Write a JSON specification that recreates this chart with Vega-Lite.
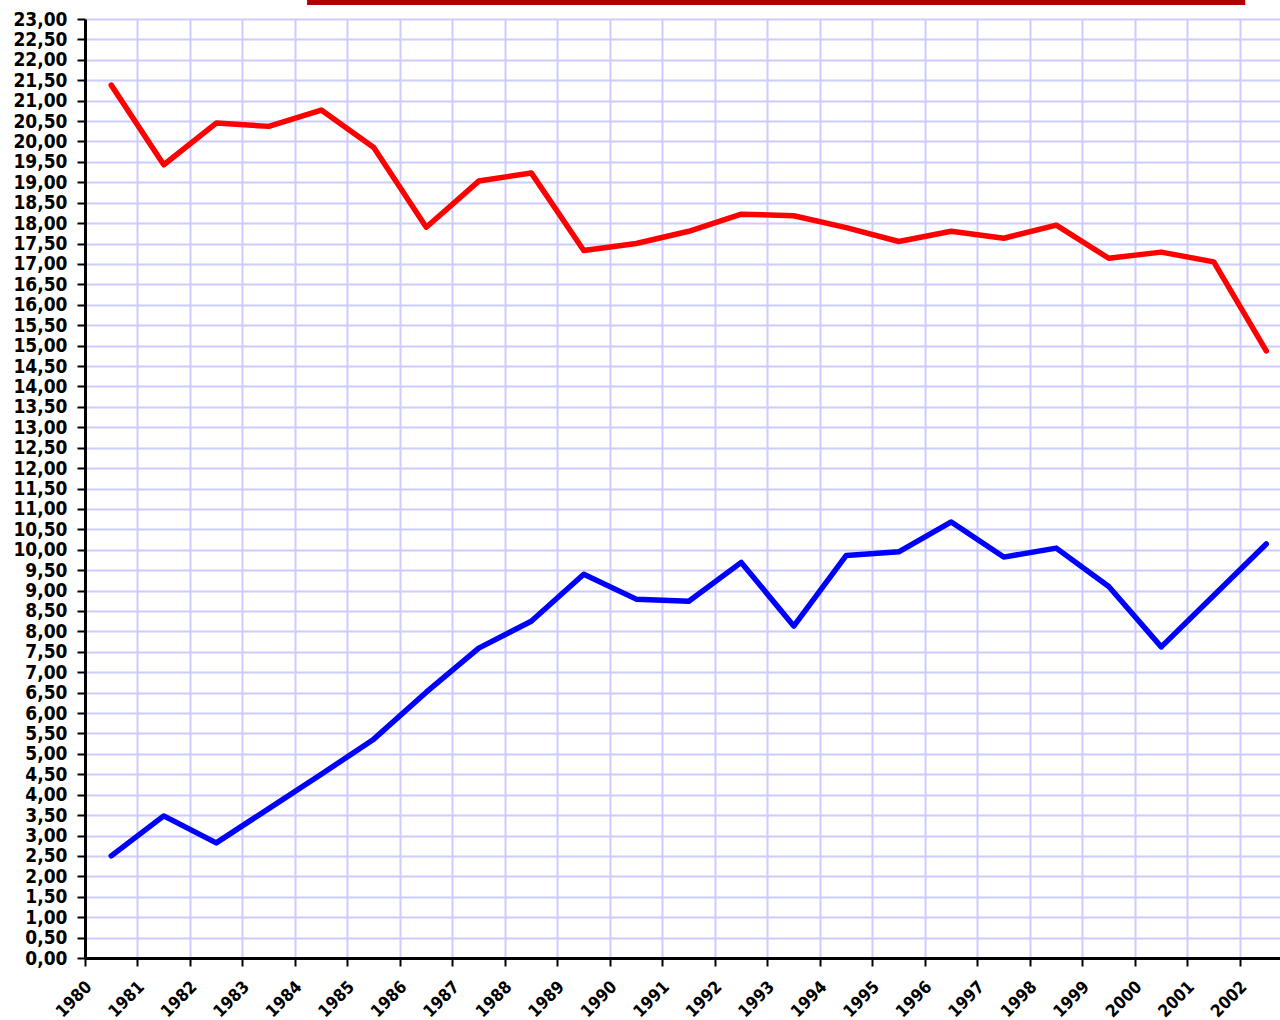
{
  "$schema": "https://vega.github.io/schema/vega-lite/v6.json",
  "width": 1195,
  "height": 939,
  "autosize": {"type": "none"},
  "padding": {"left": 85, "top": 19, "right": 0, "bottom": 62},
  "background": "#ffffff",
  "config": {
    "view": {"stroke": null},
    "axis": {
      "labelFont": "DejaVu Sans Condensed, DejaVu Sans",
      "labelFontWeight": "bold",
      "labelFontSize": 19,
      "labelColor": "#000000",
      "labelOverlap": false,
      "labelFlush": false,
      "domainColor": "#000000",
      "domainWidth": 3,
      "tickColor": "#000000",
      "tickWidth": 2,
      "tickSize": 8,
      "gridColor": "#ccccff",
      "gridWidth": 2,
      "gridOpacity": 1
    }
  },
  "datasets": {
    "series": [
      {"year": 1980, "series": "red", "value": 21.38},
      {"year": 1981, "series": "red", "value": 19.43},
      {"year": 1982, "series": "red", "value": 20.45},
      {"year": 1983, "series": "red", "value": 20.37},
      {"year": 1984, "series": "red", "value": 20.77},
      {"year": 1985, "series": "red", "value": 19.85},
      {"year": 1986, "series": "red", "value": 17.9},
      {"year": 1987, "series": "red", "value": 19.03},
      {"year": 1988, "series": "red", "value": 19.23},
      {"year": 1989, "series": "red", "value": 17.33},
      {"year": 1990, "series": "red", "value": 17.5},
      {"year": 1991, "series": "red", "value": 17.8},
      {"year": 1992, "series": "red", "value": 18.22},
      {"year": 1993, "series": "red", "value": 18.18},
      {"year": 1994, "series": "red", "value": 17.89},
      {"year": 1995, "series": "red", "value": 17.55},
      {"year": 1996, "series": "red", "value": 17.8},
      {"year": 1997, "series": "red", "value": 17.63},
      {"year": 1998, "series": "red", "value": 17.95},
      {"year": 1999, "series": "red", "value": 17.14},
      {"year": 2000, "series": "red", "value": 17.29},
      {"year": 2001, "series": "red", "value": 17.05},
      {"year": 2002, "series": "red", "value": 14.87},
      {"year": 1980, "series": "blue", "value": 2.5},
      {"year": 1981, "series": "blue", "value": 3.48},
      {"year": 1982, "series": "blue", "value": 2.82},
      {"year": 1983, "series": "blue", "value": 3.66},
      {"year": 1984, "series": "blue", "value": 4.5},
      {"year": 1985, "series": "blue", "value": 5.36},
      {"year": 1986, "series": "blue", "value": 6.51},
      {"year": 1987, "series": "blue", "value": 7.59},
      {"year": 1988, "series": "blue", "value": 8.25},
      {"year": 1989, "series": "blue", "value": 9.4},
      {"year": 1990, "series": "blue", "value": 8.79},
      {"year": 1991, "series": "blue", "value": 8.74},
      {"year": 1992, "series": "blue", "value": 9.69},
      {"year": 1993, "series": "blue", "value": 8.13},
      {"year": 1994, "series": "blue", "value": 9.86},
      {"year": 1995, "series": "blue", "value": 9.95},
      {"year": 1996, "series": "blue", "value": 10.68},
      {"year": 1997, "series": "blue", "value": 9.82},
      {"year": 1998, "series": "blue", "value": 10.04},
      {"year": 1999, "series": "blue", "value": 9.1},
      {"year": 2000, "series": "blue", "value": 7.62},
      {"year": 2001, "series": "blue", "value": 8.88},
      {"year": 2002, "series": "blue", "value": 10.14}
    ],
    "banner": [
      {"from": 1984, "to": 2002, "low": 23.34, "high": 23.48}
    ]
  },
  "resolve": {"axis": {"x": "independent", "y": "independent"}},
  "layer": [
    {
      "data": {"name": "series"},
      "mark": {"type": "line", "strokeWidth": 5.5, "strokeJoin": "round", "strokeCap": "round"},
      "encoding": {
        "x": {
          "field": "year",
          "type": "ordinal",
          "sort": "ascending",
          "scale": {"type": "band", "paddingInner": 0, "paddingOuter": 0, "range": [0, 1207.5]},
          "axis": {
            "title": null,
            "bandPosition": 0,
            "labelAngle": -45,
            "labelAlign": "right",
            "labelBaseline": "middle",
            "labelFontSize": 17,
            "labelPadding": 18,
            "labelOffset": -22,
            "grid": true
          }
        },
        "y": {
          "field": "value",
          "type": "quantitative",
          "scale": {"domain": [0, 23], "nice": false, "zero": true},
          "axis": {
            "title": null,
            "values": [0, 0.5, 1, 1.5, 2, 2.5, 3, 3.5, 4, 4.5, 5, 5.5, 6, 6.5, 7, 7.5, 8, 8.5, 9, 9.5, 10, 10.5, 11, 11.5, 12, 12.5, 13, 13.5, 14, 14.5, 15, 15.5, 16, 16.5, 17, 17.5, 18, 18.5, 19, 19.5, 20, 20.5, 21, 21.5, 22, 22.5, 23],
            "labelExpr": "replace(format(datum.value, '.2f'), '.', ',')",
            "labelPadding": 10,
            "grid": true
          }
        },
        "color": {
          "field": "series",
          "type": "nominal",
          "scale": {"domain": ["red", "blue"], "range": ["#ff0000", "#0000ff"]},
          "legend": null
        }
      }
    },
    {
      "data": {"name": "banner"},
      "mark": {"type": "rect", "color": "#b00000"},
      "encoding": {
        "x": {"field": "from", "type": "ordinal", "bandPosition": 0.23, "axis": null},
        "x2": {"field": "to", "bandPosition": 0.1},
        "y": {"field": "low", "type": "quantitative", "axis": null},
        "y2": {"field": "high"}
      }
    }
  ]
}
